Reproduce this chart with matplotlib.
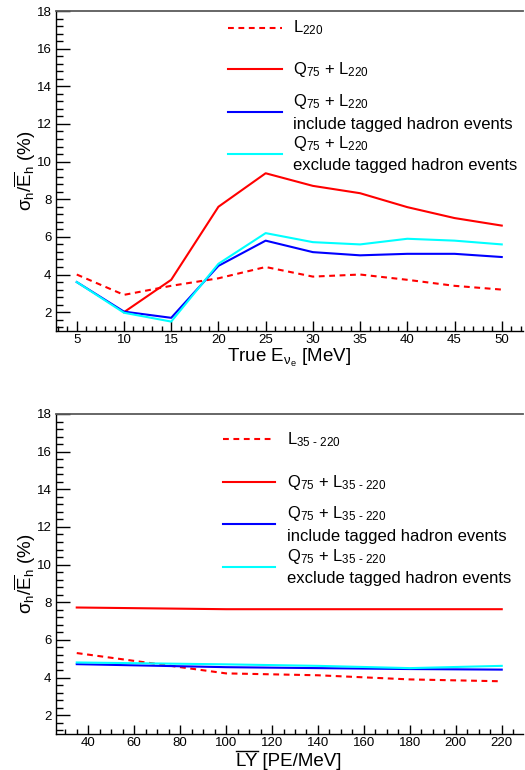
import matplotlib
matplotlib.use("Agg")
import matplotlib.pyplot as plt
from matplotlib.lines import Line2D
from matplotlib.ticker import MultipleLocator

plt.rcParams['font.family'] = ['Liberation Sans', 'DejaVu Sans']
plt.rcParams['mathtext.fontset'] = 'custom'
plt.rcParams['mathtext.rm'] = 'Liberation Sans'
plt.rcParams['mathtext.it'] = 'Liberation Sans'
plt.rcParams['mathtext.default'] = 'regular'

# top panel: resolution vs true neutrino energy
energy = [5, 10, 15, 20, 25, 30, 35, 40, 45, 50]
l220 = [4.0, 2.92, 3.4, 3.8, 4.4, 3.89, 4.0, 3.72, 3.4, 3.2]
energy_q = [10, 15, 20, 25, 30, 35, 40, 45, 50]
q75_l220 = [2.0, 3.72, 7.6, 9.38, 8.71, 8.32, 7.58, 7.0, 6.6]
q75_l220_incl = [3.6, 2.03, 1.7, 4.46, 5.8, 5.19, 5.02, 5.1, 5.1, 4.93]
q75_l220_excl = [3.6, 1.97, 1.5, 4.57, 6.2, 5.72, 5.6, 5.9, 5.8, 5.6]

# bottom panel: resolution vs mean light yield
light_yield = [35, 100, 140, 180, 220]
l35 = [5.3, 4.22, 4.12, 3.9, 3.8]
q75_l35 = [7.72, 7.63, 7.63, 7.63, 7.63]
q75_l35_incl = [4.71, 4.55, 4.5, 4.45, 4.42]
q75_l35_excl = [4.8, 4.7, 4.62, 4.5, 4.62]

top_labels = [[r'L$_{220}$'],
              [r'Q$_{75}$ + L$_{220}$'],
              [r'Q$_{75}$ + L$_{220}$', 'include tagged hadron events'],
              [r'Q$_{75}$ + L$_{220}$', 'exclude tagged hadron events']]
bot_labels = [[r'L$_{35\ \text{-}\ 220}$'],
              [r'Q$_{75}$ + L$_{35\ \text{-}\ 220}$'],
              [r'Q$_{75}$ + L$_{35\ \text{-}\ 220}$', 'include tagged hadron events'],
              [r'Q$_{75}$ + L$_{35\ \text{-}\ 220}$', 'exclude tagged hadron events']]

RED, BLUE, CYAN = '#ff0000', '#0000ff', '#00ffff'
DASH = (0, (2.8, 2.2))
W, H = 525, 770

fig = plt.figure(figsize=(W / 100, H / 100), dpi=100)


def px_axes(left, top, right, bottom):
    return fig.add_axes([left / W, 1 - bottom / H, (right - left) / W, (bottom - top) / H])


def style(ax, xmaj, xmin_, xmajlen):
    ax.set_ylim(1, 18)
    ax.yaxis.set_major_locator(MultipleLocator(2))
    ax.yaxis.set_minor_locator(MultipleLocator(0.4))
    ax.xaxis.set_major_locator(MultipleLocator(xmaj))
    ax.xaxis.set_minor_locator(MultipleLocator(xmin_))
    ax.spines['right'].set_visible(False)
    ax.spines['top'].set_color('#5a5a5a')
    ax.spines['top'].set_linewidth(1.3)
    for s in ('left', 'bottom'):
        ax.spines[s].set_linewidth(1.0)
    ax.tick_params(which='both', direction='in', top=False, right=False,
                   labelsize=9.5, width=1.0)
    ax.tick_params(axis='y', which='major', length=10, pad=3)
    ax.tick_params(axis='y', which='minor', length=5)
    ax.tick_params(axis='x', which='major', length=xmajlen, pad=2.5)
    ax.tick_params(axis='x', which='minor', length=3.6)


def key(x0, x1, xt, y_line, color, ls, texts, baselines):
    fig.add_artist(Line2D([x0 / W, x1 / W], [1 - y_line / H, 1 - y_line / H],
                          color=color, lw=1.5, linestyle=ls))
    for t, b in zip(texts, baselines):
        fig.text(xt / W, 1 - b / H, t, fontsize=12, va='baseline', ha='left')


# ---- top panel
ax1 = px_axes(55.5, 11, 523, 331)
ax1.plot(energy, l220, color=RED, lw=1.5, linestyle=DASH)
ax1.plot(energy_q, q75_l220, color=RED, lw=1.5)
ax1.plot(energy, q75_l220_incl, color=BLUE, lw=1.5)
ax1.plot(energy, q75_l220_excl, color=CYAN, lw=1.5)
ax1.set_xlim(2.75, 52.25)
style(ax1, 5, 1, 7)

key(228, 282, 293, 27.7, RED, DASH, top_labels[0], [32])
key(228, 282, 293, 69.3, RED, '-', top_labels[1], [74])
key(228, 282, 293, 111.7, BLUE, '-', top_labels[2], [106, 129])
key(228, 282, 293, 154, CYAN, '-', top_labels[3], [148, 170])

fig.text(289 / W, 1 - 362 / H, r'True E$_{\nu_e}$ [MeV]', fontsize=13.5,
         ha='center', va='baseline')
fig.text(25 / W, 1 - 171 / H, r'$\sigma_h/\overline{E}_h$ (%)', fontsize=13.5,
         ha='center', va='center', rotation=90)

# ---- bottom panel
ax2 = px_axes(55.5, 414, 523, 734)
ax2.plot(light_yield, l35, color=RED, lw=1.5, linestyle=DASH)
ax2.plot(light_yield, q75_l35, color=RED, lw=1.5)
ax2.plot(light_yield, q75_l35_incl, color=BLUE, lw=1.5)
ax2.plot(light_yield, q75_l35_excl, color=CYAN, lw=1.5)
ax2.set_xlim(25.75, 229.25)
style(ax2, 20, 5, 6.5)

key(223, 275, 287, 439, RED, DASH, bot_labels[0], [444])
key(223, 275, 287, 482, RED, '-', bot_labels[1], [487])
key(223, 275, 287, 524, BLUE, '-', bot_labels[2], [518, 541])
key(223, 275, 287, 567, CYAN, '-', bot_labels[3], [561, 583])

# x title with an overline drawn over "LY" only
xt = fig.text(289 / W, 1 - 766 / H, 'LY [PE/MeV]', fontsize=13.5,
              ha='center', va='baseline')
r = fig.canvas.get_renderer()
full = xt.get_window_extent(r)
probe = fig.text(0, 0, 'LY', fontsize=13.5)
ly_w = probe.get_window_extent(r).width
probe.remove()
y_bar = (H - 766 + 15.5) / H
fig.add_artist(Line2D([full.x0 / W, (full.x0 + ly_w) / W], [y_bar, y_bar],
                      color='black', lw=1.0))
fig.text(25 / W, 1 - 574 / H, r'$\sigma_h/\overline{E}_h$ (%)', fontsize=13.5,
         ha='center', va='center', rotation=90)

fig.savefig('out.png', dpi=100)
